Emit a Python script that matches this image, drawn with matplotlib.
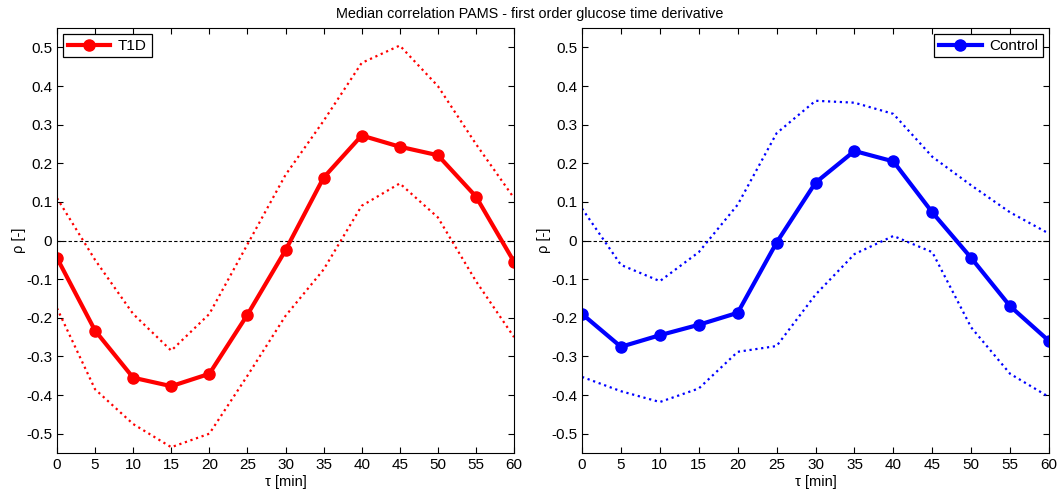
import numpy as np
import matplotlib
matplotlib.use('Agg')
import matplotlib.pyplot as plt

plt.rcParams['font.family'] = ['Liberation Sans', 'DejaVu Sans']
plt.rcParams['font.size'] = 10.5

tau = [0, 5, 10, 15, 20, 25, 30, 35, 40, 45, 50, 55, 60]

t1d_median = [-0.045, -0.233, -0.355, -0.377, -0.345, -0.192, -0.025, 0.163, 0.272, 0.243, 0.221, 0.114, -0.055]
t1d_upper = [0.11, -0.05, -0.19, -0.285, -0.19, -0.01, 0.17, 0.31, 0.46, 0.505, 0.40, 0.25, 0.11]
t1d_lower = [-0.175, -0.385, -0.475, -0.535, -0.50, -0.35, -0.195, -0.075, 0.09, 0.148, 0.06, -0.105, -0.25]

ctrl_median = [-0.19, -0.275, -0.245, -0.218, -0.187, -0.005, 0.15, 0.232, 0.205, 0.073, -0.045, -0.17, -0.26]
ctrl_upper = [0.083, -0.063, -0.105, -0.03, 0.093, 0.278, 0.362, 0.357, 0.328, 0.217, 0.143, 0.073, 0.018]
ctrl_lower = [-0.353, -0.39, -0.418, -0.383, -0.288, -0.273, -0.14, -0.035, 0.012, -0.03, -0.225, -0.345, -0.405]

yticks = [-0.5, -0.4, -0.3, -0.2, -0.1, 0, 0.1, 0.2, 0.3, 0.4, 0.5]
ytick_labels = ['-0.5', '-0.4', '-0.3', '-0.2', '-0.1', '0', '0.1', '0.2', '0.3', '0.4', '0.5']

fig = plt.figure(figsize=(10.59, 4.94), dpi=100)
ax1 = fig.add_axes([0.0538, 0.083, 0.4316, 0.860])
ax2 = fig.add_axes([0.5496, 0.083, 0.4410, 0.860])

def draw(ax, median, upper, lower, color, label, loc):
    ax.axhline(0, color='black', linestyle='--', linewidth=0.8, dashes=(3, 2))
    ax.plot(tau, upper, color=color, linestyle=':', linewidth=1.6)
    ax.plot(tau, lower, color=color, linestyle=':', linewidth=1.6)
    ax.plot(tau, median, color=color, linewidth=3, marker='o', markersize=8, label=label)
    ax.set_xlim(0, 60)
    ax.set_ylim(-0.55, 0.55)
    ax.set_xticks(tau)
    ax.set_yticks(yticks)
    ax.set_yticklabels(ytick_labels)
    ax.tick_params(direction='in', top=True, right=True, length=4, labelsize=11)
    ax.set_xlabel('τ [min]', labelpad=2, fontsize=10.5)
    ax.set_ylabel('ρ [-]', labelpad=0, fontsize=10.5)
    leg = ax.legend(loc=loc, fancybox=False, framealpha=1, edgecolor='black',
                    handlelength=2.8, borderaxespad=0.4, fontsize=11,
                    borderpad=0.3, handletextpad=0.5)
    leg.get_frame().set_linewidth(0.9)

draw(ax1, t1d_median, t1d_upper, t1d_lower, '#ff0000', 'T1D', 'upper left')
draw(ax2, ctrl_median, ctrl_upper, ctrl_lower, '#0000ff', 'Control', 'upper right')

fig.text(0.5, 0.972, 'Median correlation PAMS - first order glucose time derivative',
         ha='center', va='center', fontsize=10.4)

fig.savefig('out.png', dpi=100)
